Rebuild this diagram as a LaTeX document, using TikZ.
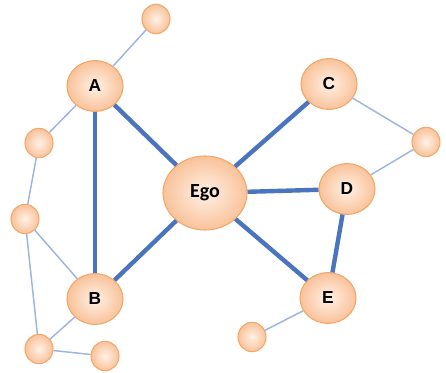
\documentclass[tikz,border=0pt]{standalone}
\usepackage{fontspec}
\setmainfont{Liberation Sans}
\newfontfamily\egofont{Carlito}
\usetikzlibrary{shapes.geometric}

\definecolor{strongtie}{HTML}{4A74BE}
\definecolor{weaktie}{HTML}{9DB5E0}
\definecolor{peachin}{HTML}{FFF1E6}
\definecolor{peachout}{HTML}{F9C29A}
\definecolor{peachline}{HTML}{F2A766}

\tikzset{
  person/.style={ellipse, draw=peachline, line width=0.8pt, inner sep=0pt,
    inner color=peachin, outer color=peachout},
  egonode/.style={person, minimum width=63pt, minimum height=55.5pt,
    font=\egofont\fontsize{15}{18}\selectfont\bfseries},
  alter/.style={person, minimum width=42pt, minimum height=38pt,
    font=\fontsize{13}{15}\selectfont\bfseries},
  contact/.style={person, minimum width=21pt, minimum height=22pt},
  strong/.style={draw=strongtie, line width=3.3pt},
  weak/.style={draw=weaktie, line width=1.1pt}
}

\begin{document}
\begin{tikzpicture}[x=0.75pt, y=-0.75pt]
      \useasboundingbox (0,0) rectangle (446,373);
      \node[egonode] (ego) at (205,193) {Ego};
      \node[alter] (A) at (95,86) {A};
      \node[alter] (B) at (95,299) {B};
      \node[alter] (C) at (329,84) {C};
      \node[alter] (D) at (347,189) {D};
      \node[alter] (E) at (328,298) {E};
      \foreach \name/\x/\y in {a1/156/19, b1/39/143, b2/25/219, b3/39/349,
          b4/105/356, c1/426/142, e1/252/337} {
          \node[contact] (\name) at (\x,\y) {};
      }
      \foreach \u/\v in {ego/A, ego/B, ego/C, ego/D, ego/E, A/B, D/E} {
          \draw[strong] (\u) -- (\v);
      }
      \foreach \u/\v in {A/a1, A/b1, b1/b2, b2/B, b2/b3, B/b3, b3/b4,
          C/c1, c1/D, E/e1} {
          \draw[weak] (\u) -- (\v);
      }
    \end{tikzpicture}
\end{document}
